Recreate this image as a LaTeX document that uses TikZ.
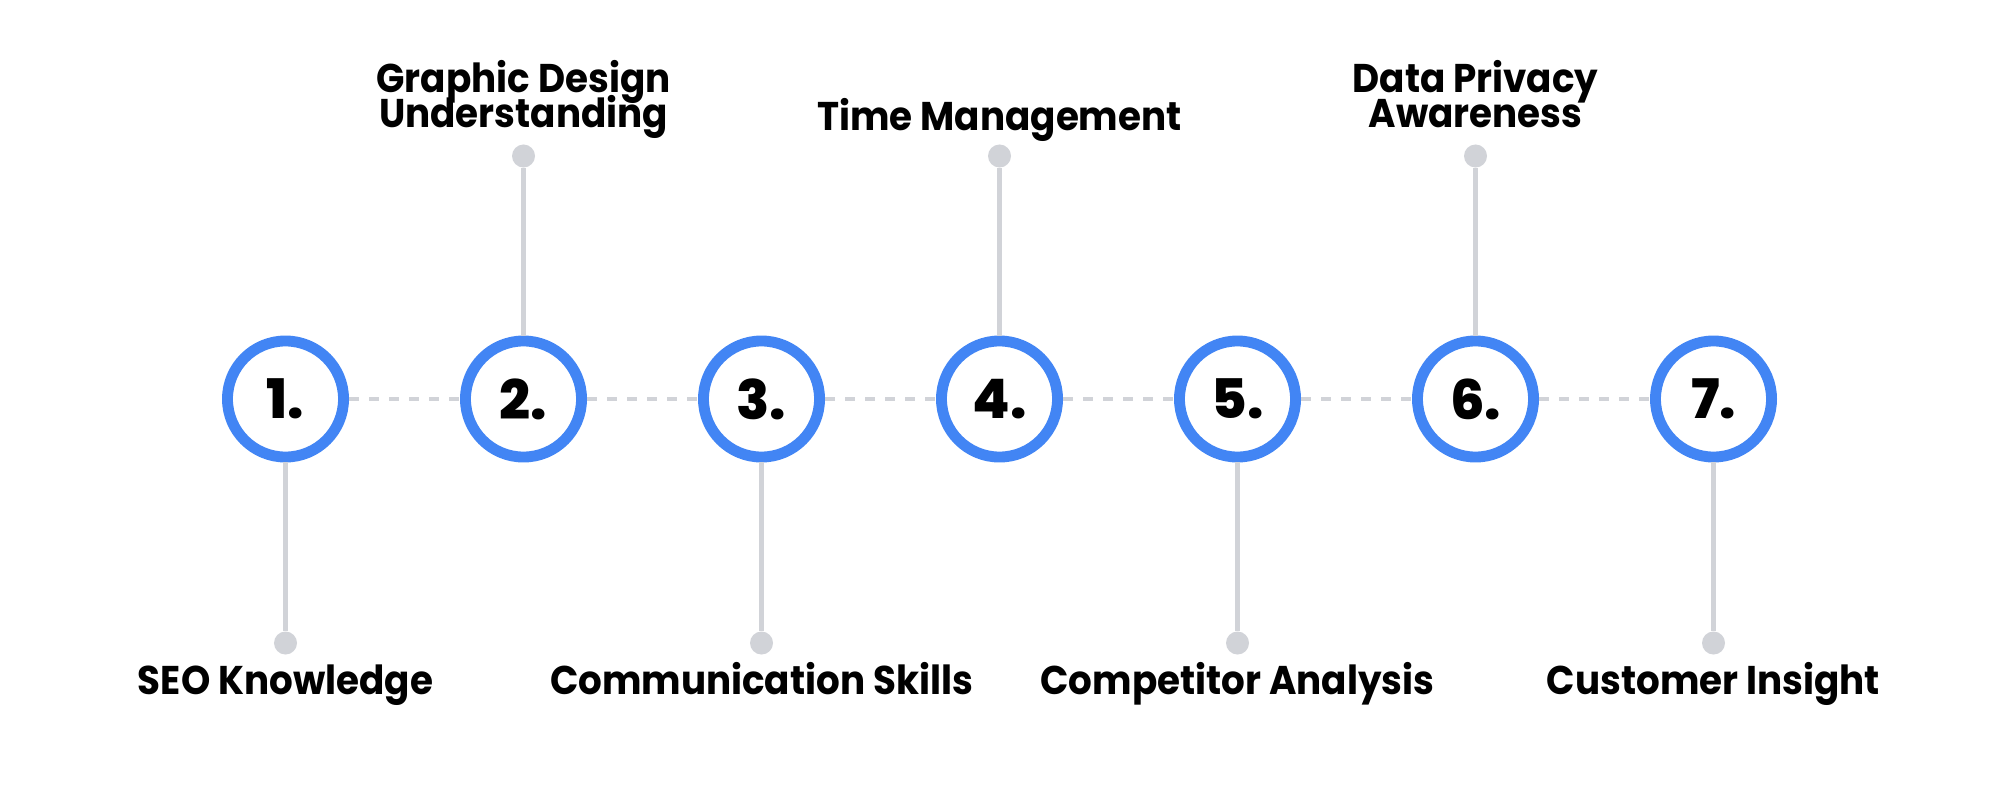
\documentclass[tikz,border=0pt]{standalone}
\usepackage{fontspec}
\setmainfont{Poppins}
\newfontfamily\numfont{Poppins ExtraBold}
\newfontfamily\skillfont{Poppins Bold}[FakeStretch=0.93]
\newcommand\skilltext{\skillfont\fontsize{11.4}{9.9}\selectfont\lineskiplimit-20pt\relax}
\usepackage{tikz}
\definecolor{ringblue}{HTML}{4285F4}
\definecolor{stemgrey}{HTML}{D1D3D8}

\begin{document}
\begin{tikzpicture}[x=0.01cm, y=-0.01cm]
\tikzstyle{ring} = [circle, draw=ringblue, line width=3.1pt, fill=white, minimum size=1.16cm, inner sep=0pt, font=\numfont\fontsize{15.5}{16}\selectfont]
\tikzstyle{dot} = [circle, fill=stemgrey, minimum size=0.23cm, inner sep=0pt]
\tikzstyle{skill} = [align=center, inner sep=0pt, anchor=base, font=\skilltext]
\useasboundingbox (0,0) rectangle (2000,800);

\foreach \i in {1,...,7}
\node[ring](N\i) at (47.5+238*\i,399) {\i.};

\foreach \i/\y in {1/643, 2/156, 3/643, 4/156, 5/643, 6/156, 7/643}
\node[dot](D\i) at (47.5+238*\i,\y) {};

\node[skill](L1) at (285.5,694) {SEO Knowledge};
\node[skill](L2) at (523.5,127.3) {Graphic Design\\Understanding};
\node[skill](L3) at (761.5,694) {Communication Skills};
\node[skill](L4) at (999.5,130) {Time Management};
\node[skill](L5) at (1237.5,694) {Competitor Analysis};
\node[skill](L6) at (1475.5,127.3) {Data Privacy\\Awareness};
\node[skill](L7) at (1713.5,694) {Customer Insight};

\foreach \from/\to in {N1/N2, N2/N3, N3/N4, N4/N5, N5/N6, N6/N7}
\draw [stemgrey][line width=1.1pt, dash pattern=on 2.85pt off 2.85pt] (\from) -- (\to);
\foreach \i in {1,...,7}
\draw [stemgrey][line width=1.2pt] (N\i) -- (D\i);

\end{tikzpicture}
\end{document}
